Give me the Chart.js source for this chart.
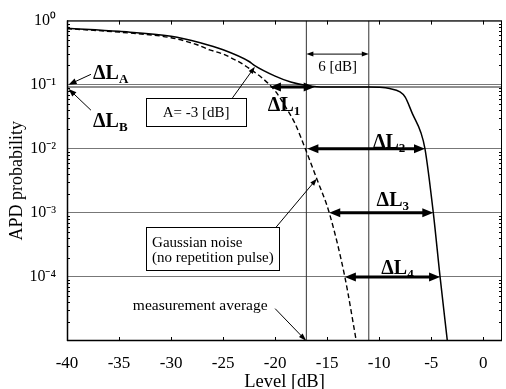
<!DOCTYPE html>
<html>
<head>
<meta charset="utf-8">
<script src="https://cdn.jsdelivr.net/npm/chart.js@4.4.0/dist/chart.umd.min.js"></script>
<style>
  html, body { margin: 0; padding: 0; background: #fff; }
  #wrap { width: 506px; height: 389px; }
</style>
</head>
<body>
<div id="wrap"><canvas id="apd"></canvas></div>
<script>
const SERIF = '"Liberation Serif", "Times New Roman", serif';

// measured APD (solid) — level in dB / probability
const levelSolid = [-40, -35, -30, -27.2, -25, -22.5, -22, -20, -18.5, -17, -16, -14, -11, -10, -9, -8, -7.5, -6.8, -6, -5.6, -4.8, -4.15, -3.45];
const probSolid  = [0.76, 0.68, 0.57, 0.45, 0.35, 0.23, 0.2, 0.136, 0.11, 0.097, 0.093, 0.092, 0.092, 0.091, 0.087, 0.077, 0.064, 0.035, 0.018, 0.01, 0.001, 0.0001, 0.00001];

// Gaussian noise APD (dashed)
const levelGauss = [-40, -35, -30, -27.5, -26.3, -25, -22.5, -20, -19, -18.1, -17.1, -16, -14.8, -13.3, -12.2];
const probGauss  = [0.75, 0.66, 0.54, 0.42, 0.35, 0.30, 0.18, 0.08, 0.045, 0.025, 0.01, 0.0034, 0.001, 0.0001, 0.00001];

const refLevels = [-17, -11];   // vertical marker lines
const plateauProb = 0.092;      // horizontal line of the pulse plateau

const xRange = [-40, 1.8];
const yRange = [1e-5, 1];
const xTickValues = [-40, -35, -30, -25, -20, -15, -10, -5, 0];
const yTickValues = [1e-4, 1e-3, 1e-2, 1e-1, 1];
const yTickLabels = ['10⁻⁴', '10⁻³', '10⁻²', '10⁻¹', '10⁰'];

// ΔL arrows at the probability levels, [from level, to level, prob]
const deltaNames  = ['1', '2', '3', '4'];
const deltaFrom   = [-20.5, -16.9, -14.8, -13.3];
const deltaTo     = [-16.2, -5.6, -4.8, -4.15];
const deltaProb   = [0.092, 1e-2, 1e-3, 1e-4];
const deltaTextAt = [[-20.7, 0.05], [-10.6, 0.0132], [-10.25, 0.00166], [-9.8, 0.000142]];

function head(ctx, x, y, ang, hl, hw) {
  const c = Math.cos(ang), s = Math.sin(ang);
  ctx.beginPath();
  ctx.moveTo(x, y);
  ctx.lineTo(x - hl * c + hw * s, y - hl * s - hw * c);
  ctx.lineTo(x - hl * c - hw * s, y - hl * s + hw * c);
  ctx.closePath();
  ctx.fill();
}

function arrow(ctx, x1, y1, x2, y2, lw, hl, hw, both) {
  const ang = Math.atan2(y2 - y1, x2 - x1);
  const c = Math.cos(ang), s = Math.sin(ang);
  ctx.lineWidth = lw;
  ctx.beginPath();
  ctx.moveTo(x1 + (both ? c * hl * 0.7 : 0), y1 + (both ? s * hl * 0.7 : 0));
  ctx.lineTo(x2 - c * hl * 0.7, y2 - s * hl * 0.7);
  ctx.stroke();
  head(ctx, x2, y2, ang, hl, hw);
  if (both) head(ctx, x1, y1, ang + Math.PI, hl, hw);
}

function deltaLabel(ctx, x, cy, sub) {
  ctx.textBaseline = 'alphabetic';
  ctx.textAlign = 'left';
  ctx.font = 'bold 20px ' + SERIF;
  const base = cy + 7;
  ctx.fillText('ΔL', x, base);
  const w = ctx.measureText('ΔL').width;
  ctx.font = 'bold 13px ' + SERIF;
  ctx.fillText(sub, x + w, base + 4);
}

const decor = {
  id: 'decor',
  afterDatasetsDraw(chart) {
    const { ctx, chartArea: a, scales: { x, y } } = chart;
    const X = v => x.getPixelForValue(v);
    const Y = v => y.getPixelForValue(v);
    ctx.save();
    ctx.strokeStyle = '#000';
    ctx.fillStyle = '#000';

    // frame with inner ticks
    ctx.lineWidth = 1;
    ctx.strokeRect(a.left + 0.5, a.top + 0.5, a.width - 1, a.height - 1);
    ctx.beginPath();
    xTickValues.forEach(v => {
      const px = Math.round(X(v)) + 0.5;
      ctx.moveTo(px, a.bottom); ctx.lineTo(px, a.bottom - 4);
      ctx.moveTo(px, a.top); ctx.lineTo(px, a.top + 4);
    });
    for (let d = -5; d < 0; d++) {
      for (let k = 2; k <= 9; k++) {
        const py = Math.round(Y(k * Math.pow(10, d))) + 0.5;
        ctx.moveTo(a.left, py); ctx.lineTo(a.left + 3, py);
        ctx.moveTo(a.right, py); ctx.lineTo(a.right - 3, py);
      }
    }
    ctx.stroke();
    ctx.lineWidth = 1.5;
    ctx.beginPath();
    ctx.moveTo(a.left + 0.5, a.top); ctx.lineTo(a.left + 0.5, a.bottom);
    ctx.moveTo(a.left, a.bottom - 0.5); ctx.lineTo(a.right, a.bottom - 0.5);
    ctx.stroke();

    // thick ΔL arrows
    deltaNames.forEach((n, i) => {
      arrow(ctx, X(deltaFrom[i]), Y(deltaProb[i]), X(deltaTo[i]), Y(deltaProb[i]), 3, 11, 4.5, true);
      deltaLabel(ctx, X(deltaTextAt[i][0]), Y(deltaTextAt[i][1]), n);
    });

    // ΔLA / ΔLB pointers to the left axis
    deltaLabel(ctx, X(-37.5), Y(0.16), 'A');
    deltaLabel(ctx, X(-37.5), Y(0.0277), 'B');
    arrow(ctx, X(-37.7), Y(0.145), X(-39.85), Y(0.1), 1, 8, 3, false);
    arrow(ctx, X(-37.7), Y(0.04), X(-39.85), Y(0.086), 1, 8, 3, false);

    // 6 dB span
    arrow(ctx, X(-17), Y(0.30), X(-11), Y(0.30), 1, 7, 2.5, true);
    ctx.font = '15px ' + SERIF;
    ctx.textAlign = 'center';
    ctx.textBaseline = 'middle';
    ctx.fillText('6 [dB]', X(-14), Y(0.185));

    // A = -3 dB box
    ctx.lineWidth = 1;
    ctx.fillStyle = '#fff';
    const ax1 = X(-32.4), ax2 = X(-22.8), ay1 = Y(0.0622), ay2 = Y(0.0224);
    ctx.fillRect(ax1, ay1, ax2 - ax1, ay2 - ay1);
    ctx.strokeRect(Math.round(ax1) + 0.5, Math.round(ay1) + 0.5, Math.round(ax2 - ax1), Math.round(ay2 - ay1));
    ctx.fillStyle = '#000';
    ctx.fillText('A= -3 [dB]', (ax1 + ax2) / 2, (ay1 + ay2) / 2 + 1);
    arrow(ctx, X(-24.1), ay1, X(-21.95), Y(0.19), 1, 7, 2.5, false);

    // Gaussian noise box
    ctx.fillStyle = '#fff';
    const gx1 = X(-32.4), gx2 = X(-19.65), gy1 = Y(6.0e-4), gy2 = Y(1.28e-4);
    ctx.fillRect(gx1, gy1, gx2 - gx1, gy2 - gy1);
    ctx.strokeRect(Math.round(gx1) + 0.5, Math.round(gy1) + 0.5, Math.round(gx2 - gx1), Math.round(gy2 - gy1));
    ctx.fillStyle = '#000';
    ctx.textAlign = 'left';
    ctx.fillText('Gaussian noise', gx1 + 6, Y(3.4e-4));
    ctx.fillText('(no repetition pulse)', gx1 + 6, Y(1.95e-4));
    arrow(ctx, X(-19.9), gy1, X(-16.0), Y(0.0034), 1, 7, 2.5, false);

    // measurement average pointer
    ctx.textAlign = 'center';
    ctx.font = '15.5px ' + SERIF;
    ctx.fillText('measurement average', X(-27.2), Y(3.5e-5));
    arrow(ctx, X(-20.0), Y(3.2e-5), X(-17), Y(1e-5), 1, 8, 2.5, false);

    ctx.restore();
  }
};

const pts = (xs, ys) => xs.map((v, i) => ({ x: v, y: ys[i] }));

const datasets = [
  {
    data: pts(levelSolid, probSolid),
    borderColor: '#000', borderWidth: 1.5,
    pointRadius: 0, cubicInterpolationMode: 'monotone'
  },
  {
    data: pts(levelGauss, probGauss),
    borderColor: '#000', borderWidth: 1.4, borderDash: [5, 3],
    pointRadius: 0, cubicInterpolationMode: 'monotone'
  },
  {
    data: pts(xRange, [plateauProb, plateauProb]),
    borderColor: '#222', borderWidth: 1, pointRadius: 0
  }
].concat(refLevels.map(l => ({
  data: pts([l, l], yRange),
  borderColor: '#333', borderWidth: 1, pointRadius: 0
})));

new Chart(document.getElementById('apd'), {
  type: 'line',
  data: { datasets },
  options: {
    responsive: true,
    maintainAspectRatio: false,
    animation: false,
    layout: { padding: { top: 15, right: 4, left: 0, bottom: 0 } },
    plugins: { legend: { display: false }, tooltip: { enabled: false } },
    scales: {
      x: {
        type: 'linear',
        min: xRange[0], max: xRange[1],
        afterBuildTicks: s => { s.ticks = xTickValues.map(v => ({ value: v })); },
        afterFit: s => { s.height = 48; },
        grid: { display: false },
        border: { display: false },
        ticks: { color: '#000', padding: 4, maxRotation: 0, font: { family: SERIF, size: 17 } },
        title: {
          display: true, text: 'Level [dB]', color: '#000',
          font: { family: SERIF, size: 18.5, lineHeight: 1 },
          padding: { top: 0, bottom: -2 }
        }
      },
      y: {
        type: 'logarithmic',
        min: yRange[0], max: yRange[1],
        afterBuildTicks: s => { s.ticks = yTickValues.map(v => ({ value: v })); },
        afterFit: s => { s.width = 67; },
        grid: { color: '#777', drawTicks: false },
        border: { display: false },
        ticks: {
          color: '#000', padding: 11, font: { family: SERIF, size: 16 },
          callback: v => yTickLabels[yTickValues.indexOf(v)]
        },
        title: {
          display: true, text: 'APD probability', color: '#000',
          font: { family: SERIF, size: 18, lineHeight: 1 },
          padding: { top: 8, bottom: 0 }
        }
      }
    }
  },
  plugins: [decor]
});
</script>
</body>
</html>
